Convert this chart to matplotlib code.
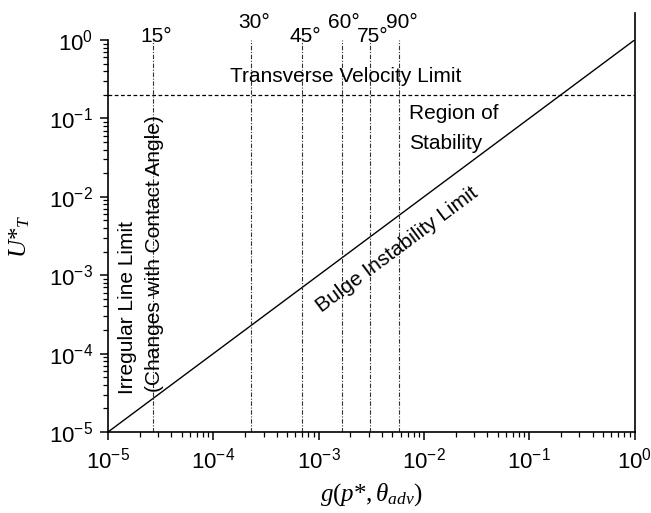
import matplotlib
matplotlib.use("Agg")
import matplotlib.pyplot as plt
from matplotlib.ticker import LogLocator, NullFormatter

# stability map data
angle_labels = ['15°', '30°', '45°', '60°', '75°', '90°']
g_values = [2.7e-5, 2.3e-4, 7.0e-4, 1.65e-3, 3.1e-3, 5.8e-3]
bulge_x = [1e-5, 1e0]
bulge_y = [1e-5, 1e0]
transverse_limit = 0.2

plt.rcParams['font.family'] = ['Liberation Sans', 'DejaVu Sans']
plt.rcParams['mathtext.fontset'] = 'custom'
plt.rcParams['mathtext.rm'] = 'Liberation Serif'
plt.rcParams['mathtext.it'] = 'Liberation Serif:italic'

fig = plt.figure(figsize=(6.51, 5.13), dpi=100)
ax = fig.add_axes([0.1659, 0.1579, 0.8088, 0.7641])
ax.set_xscale('log')
ax.set_yscale('log')
ax.set_xlim(1e-5, 1e0)
ax.set_ylim(1e-5, 1e0)

# bulge instability line
ax.plot(bulge_x, bulge_y, color='black', lw=1.0)

# transverse velocity limit
ax.axhline(transverse_limit, color='black', lw=0.9, ls=(0, (3, 2)))

# contact angle lines
ax.vlines(g_values, 1e-5, 1e0, colors='0.2', lw=0.8, linestyles=[(0, (4, 1.5, 1, 1.5))])
for i, (g, lab) in enumerate(zip(g_values, angle_labels)):
    y = 1.265 if i % 2 == 1 else 10 ** -0.07
    ax.annotate(lab, (g, y), xytext=(2, 0), textcoords='offset points',
                ha='center', va='bottom', fontsize=15, annotation_clip=False)

# right border drawn a bit taller than the axes
ax.plot([1, 1], [1e-5, 10 ** 0.344], color='black', lw=1.2, clip_on=False)

fs = 15
ax.text(10 ** -2.745, 10 ** -0.47, 'Transverse Velocity Limit', ha='center', va='center', fontsize=fs)
ax.text(10 ** -2.141, 10 ** -0.931, 'Region of', ha='left', va='center', fontsize=fs)
ax.text(10 ** -2.141, 10 ** -1.314, 'Stability', ha='left', va='center', fontsize=fs)
ax.text(10 ** -2.255, 10 ** -2.68, 'Bulge Instability Limit', ha='center', va='center',
        rotation=36.7, rotation_mode='anchor', fontsize=fs)
ax.text(10 ** -4.815, 10 ** -3.406, 'Irregular Line Limit', ha='center', va='center',
        rotation=90, fontsize=fs)
ax.text(10 ** -4.554, 10 ** -2.73, '(Changes with Contact Angle)', ha='center', va='center',
        rotation=90, fontsize=fs)

ax.spines['top'].set_visible(False)
ax.spines['right'].set_visible(False)
ax.spines['left'].set_linewidth(1.2)
ax.spines['bottom'].set_linewidth(1.2)

ax.xaxis.set_major_locator(LogLocator(base=10, numticks=10))
ax.yaxis.set_major_locator(LogLocator(base=10, numticks=10))
ax.xaxis.set_minor_locator(LogLocator(base=10, subs=range(2, 10), numticks=20))
ax.yaxis.set_minor_locator(LogLocator(base=10, subs=range(2, 10), numticks=20))
ax.xaxis.set_minor_formatter(NullFormatter())
ax.yaxis.set_minor_formatter(NullFormatter())
ax.tick_params(which='major', direction='out', length=6, width=1.1, labelsize=16, pad=5)
ax.tick_params(which='minor', direction='out', length=3.5, width=0.9)

ax.set_xlabel(r'$g(p{*},\theta_{adv})$', fontsize=18)
ax.set_ylabel(r'$U{*}_{T}$', fontsize=18)
ax.xaxis.set_label_coords(0.5, -0.125)
ax.yaxis.set_label_coords(-0.145, 0.5)

fig.savefig('out.png', dpi=100)
